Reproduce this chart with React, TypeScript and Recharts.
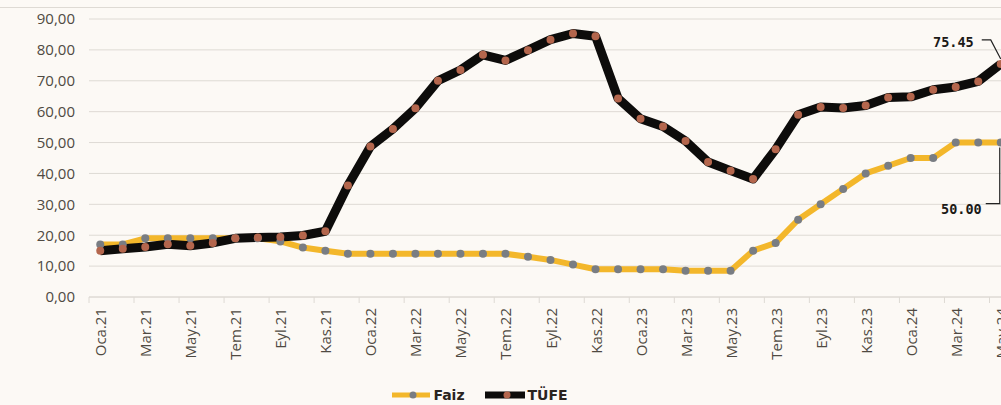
import { type FC } from 'react';
import { CartesianGrid, Legend, Line, LineChart, XAxis, YAxis } from 'recharts';

// months Oca.21 .. May.24
const months = [
  'Oca.21', 'Şub.21', 'Mar.21', 'Nis.21', 'May.21', 'Haz.21', 'Tem.21', 'Ağu.21', 'Eyl.21', 'Eki.21', 'Kas.21', 'Ara.21',
  'Oca.22', 'Şub.22', 'Mar.22', 'Nis.22', 'May.22', 'Haz.22', 'Tem.22', 'Ağu.22', 'Eyl.22', 'Eki.22', 'Kas.22', 'Ara.22',
  'Oca.23', 'Şub.23', 'Mar.23', 'Nis.23', 'May.23', 'Haz.23', 'Tem.23', 'Ağu.23', 'Eyl.23', 'Eki.23', 'Kas.23', 'Ara.23',
  'Oca.24', 'Şub.24', 'Mar.24', 'Nis.24', 'May.24'
];

const faiz = [
  17, 17, 19, 19, 19, 19, 19, 19, 18, 16, 15, 14,
  14, 14, 14, 14, 14, 14, 14, 13, 12, 10.5, 9, 9,
  9, 9, 8.5, 8.5, 8.5, 15, 17.5, 25, 30, 35, 40, 42.5,
  45, 45, 50, 50, 50
];

const tufe = [
  15.0, 15.6, 16.2, 17.1, 16.6, 17.5, 19.0, 19.3, 19.4, 19.9, 21.3, 36.1,
  48.7, 54.4, 61.1, 70.0, 73.5, 78.4, 76.6, 79.9, 83.3, 85.3, 84.4, 64.3,
  57.7, 55.2, 50.5, 43.7, 40.9, 38.2, 47.8, 59.0, 61.5, 61.2, 62.0, 64.6,
  64.8, 67.1, 68.0, 69.8, 75.45
];

const yTicks = [0, 10, 20, 30, 40, 50, 60, 70, 80, 90];

const data = months.map((m, i) => ({ month: m, faiz: faiz[i], tufe: tufe[i] }));

const CHART_W = 1030;
const CHART_H = 405;
const Y_W = 89;
const MARGIN = { top: 19, right: 18, left: 0, bottom: 0 };
const BAND = (CHART_W - Y_W - MARGIN.left - MARGIN.right) / months.length;

const GRID = '#dedad4';
const AXIS_TEXT = '#4f4a42';
const YELLOW = '#f3b72b';
const GRAY_DOT = '#797d83';
const BLACK = '#0d0c0b';
const BROWN_DOT = '#b4664d';

const XTick: FC<any> = ({ x, y, payload }) => (
  <g>
    <line x1={x - BAND / 2} y1={y} x2={x - BAND / 2} y2={y + 6} stroke={GRID} />
    <text
      x={x}
      y={y + 11}
      transform={`rotate(-90 ${x} ${y + 11})`}
      textAnchor="end"
      dominantBaseline="central"
      fill={AXIS_TEXT}
      fontSize={15}
      fontFamily="'Open Sans', sans-serif"
    >
      {payload.value}
    </text>
  </g>
);

const lastIdx = months.length - 1;

const TufeLabel: FC<any> = ({ x, y, index, value }) => {
  if (index !== lastIdx) return null;
  return (
    <g>
      <polyline points={`${x - 19},${y - 24} ${x - 10},${y - 24} ${x},${y - 5}`} fill="none" stroke="#222" strokeWidth={1.2} />
      <text x={x - 27} y={y - 22} textAnchor="end" dominantBaseline="central" fontSize={13.5} fontWeight="bold" fontFamily="'DejaVu Sans Mono', monospace" fill="#1c1a17">
        {value.toFixed(2)}
      </text>
    </g>
  );
};

const FaizLabel: FC<any> = ({ x, y, index, value }) => {
  if (index !== lastIdx) return null;
  return (
    <g>
      <polyline points={`${x - 15},${y + 61} ${x - 1},${y + 61} ${x - 1},${y + 5}`} fill="none" stroke="#222" strokeWidth={1.2} />
      <text x={x - 19} y={y + 66} textAnchor="end" dominantBaseline="central" fontSize={13.5} fontWeight="bold" fontFamily="'DejaVu Sans Mono', monospace" fill="#1c1a17">
        {value.toFixed(2)}
      </text>
    </g>
  );
};

const legendItems = [
  { name: 'Faiz', line: YELLOW, width: 5, dot: GRAY_DOT, len: 38 },
  { name: 'TÜFE', line: BLACK, width: 7, dot: BROWN_DOT, len: 40 }
];

const ChartLegend: FC = () => (
  <div style={{ display: 'flex', justifyContent: 'center', alignItems: 'center', gap: 20, marginLeft: -52 }}>
    {legendItems.map((it) => (
      <div key={it.name} style={{ display: 'flex', alignItems: 'center', gap: 3 }}>
        <svg width={it.len} height={12}>
          <line x1={0} y1={6} x2={it.len} y2={6} stroke={it.line} strokeWidth={it.width} strokeLinecap="round" />
          <circle cx={it.len / 2 + 2} cy={6} r={3.5} fill={it.dot} />
        </svg>
        <span style={{ fontFamily: "'DejaVu Sans', sans-serif", fontWeight: 'bold', fontSize: 14, color: '#2a241f' }}>{it.name}</span>
      </div>
    ))}
  </div>
);

export default function App() {
  return (
    <div style={{ position: 'absolute', left: 0, top: 0, width: 1001, height: 405, overflow: 'hidden', background: '#fcf9f5' }}>
      <div style={{ position: 'absolute', left: 0, right: 0, top: 7, borderTop: `1px solid ${GRID}` }} />
      <LineChart width={CHART_W} height={CHART_H} data={data} margin={MARGIN}>
        <CartesianGrid vertical={false} stroke={GRID} />
        <XAxis
          dataKey="month"
          scale="band"
          interval={1}
          height={90}
          tickLine={false}
          tickSize={0}
          tickMargin={0}
          axisLine={{ stroke: GRID }}
          tick={<XTick />}
        />
        <YAxis
          width={Y_W}
          domain={[0, 90]}
          ticks={yTicks}
          axisLine={false}
          tickLine={false}
          tickSize={0}
          tickMargin={14}
          tickFormatter={(v: number) => v.toFixed(2).replace('.', ',')}
          tick={{ fill: AXIS_TEXT, fontSize: 15, fontFamily: "'Open Sans', sans-serif" }}
        />
        <Legend verticalAlign="bottom" height={18} wrapperStyle={{ bottom: 0 }} content={<ChartLegend />} />
        <Line
          dataKey="faiz"
          name="Faiz"
          type="linear"
          stroke={YELLOW}
          strokeWidth={6}
          strokeLinejoin="round"
          dot={{ r: 4, fill: GRAY_DOT, stroke: 'none' }}
          label={<FaizLabel />}
          isAnimationActive={false}
        />
        <Line
          dataKey="tufe"
          name="TÜFE"
          type="linear"
          stroke={BLACK}
          strokeWidth={9}
          strokeLinejoin="round"
          dot={{ r: 4, fill: BROWN_DOT, stroke: 'none' }}
          label={<TufeLabel />}
          isAnimationActive={false}
        />
      </LineChart>
    </div>
  );
}
